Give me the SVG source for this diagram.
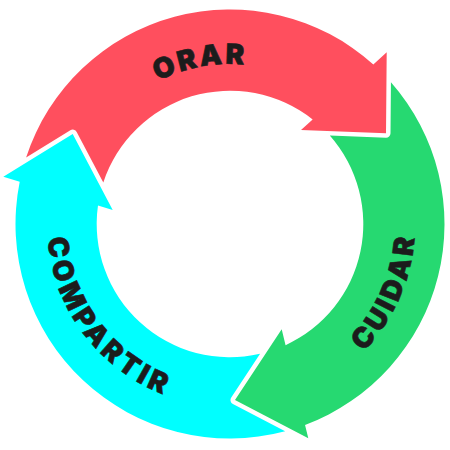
<svg xmlns="http://www.w3.org/2000/svg" xmlns:xlink="http://www.w3.org/1999/xlink" width="450" height="450" viewBox="0 0 450 450">
  <style>
    .lbl { font-family: Inter, Roboto, "DejaVu Sans", sans-serif; font-weight: 900; font-size: 28px; fill: #1c1c1c; stroke: #1c1c1c; stroke-width: 0.6; }
    .red { fill: #ff4f5e; }
    .green { fill: #26d971; }
    .cyan { fill: #00ffff; }
  </style>
  <defs>
    <path id="p-orar" d="M 79.18 170.59 A 160 160 0 0 1 351.67 120.09"/>
    <path id="p-cuidar" d="M 250.94 407.81 A 185 185 0 0 0 378.71 113.96"/>
    <path id="p-compartir" d="M 61.42 152.79 A 183 183 0 0 0 252.62 405.6"/>
  </defs>
  <rect width="450" height="450" fill="#ffffff"/>
  <g id="connectors"/>
  <g id="node-orar">
    <path class="red" d="M 26.11 157.38 A 214.5 214.5 0 0 1 373.33 64.42 L 386.7 52.3 L 386 133.3 L 301 130 L 312.66 119.43 A 133.3 133.3 0 0 0 103.32 182.51 L 76.68 131.9 A 4.5 4.5 0 0 0 70.34 130.17 Z"/>
    <text class="lbl" letter-spacing="2.5"><textPath xlink:href="#p-orar" href="#p-orar" startOffset="50%" text-anchor="middle">ORAR</textPath></text>
  </g>
  <g id="node-cuidar">
    <path class="green" d="M 390.94 82.20 A 214.5 214.5 0 0 1 305.04 424.95 L 308.3 438.3 L 235 400 L 281.7 329.3 L 285.57 345.16 A 133.3 133.3 0 0 0 329.79 135.62 L 385.83 137.80 A 4.5 4.5 0 0 0 390.5 133.34 Z"/>
    <text class="lbl" letter-spacing="3.5"><textPath xlink:href="#p-cuidar" href="#p-cuidar" startOffset="50%" text-anchor="middle">CUIDAR</textPath></text>
  </g>
  <g id="node-compartir">
    <path class="cyan" d="M 285.16 431.29 A 214.5 214.5 0 0 1 19.71 181.70 L 3.3 176.7 L 72.7 134 L 112.7 210 L 97.99 205.52 A 133.3 133.3 0 0 0 260.09 353.86 L 231.25 397.52 A 4.5 4.5 0 0 0 232.92 403.99 Z"/>
    <text class="lbl" letter-spacing="4"><textPath xlink:href="#p-compartir" href="#p-compartir" startOffset="50%" text-anchor="middle">COMPARTIR</textPath></text>
  </g>
</svg>
